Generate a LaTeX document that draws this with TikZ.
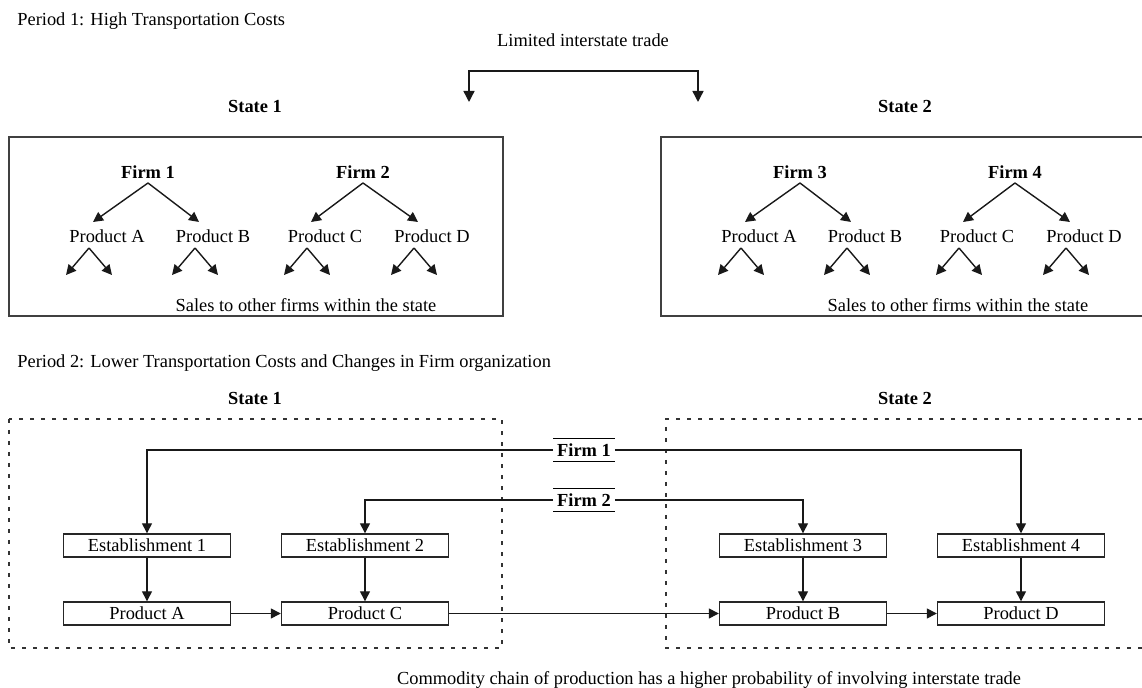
\documentclass[tikz,border=0pt]{standalone}
\usepackage{fontspec}
\setmainfont{Liberation Serif}
\usepackage{tikz}
\usetikzlibrary{arrows.meta, positioning, calc}
\newcommand{\figfont}{\fontsize{9.2}{11}\selectfont}
\tikzstyle{txt} = [inner sep=0pt, font=\figfont]
\tikzstyle{head} = [inner sep=0pt, font=\figfont\bfseries]
\tikzstyle{unit} = [rectangle, draw=black!85, line width=0.7pt, minimum width=83.5pt, minimum height=11.5pt, inner sep=0pt, font=\figfont]
\tikzstyle{firmtag} = [inner sep=0pt, minimum width=30.5pt, minimum height=11pt, font=\figfont\bfseries,
  append after command={(\tikzlastnode.north west) edge[line width=0.7pt] (\tikzlastnode.north east)
                        (\tikzlastnode.south west) edge[line width=0.7pt] (\tikzlastnode.south east)}]
\tikzstyle{arrow} = [line width=0.7pt, draw=black!90, -{Triangle[length=5pt,width=5pt]}]
\tikzstyle{twoway} = [line width=0.7pt, draw=black!90, {Triangle[length=5.5pt,width=5.5pt]}-{Triangle[length=5.5pt,width=5.5pt]}]
\tikzstyle{region} = [line width=0.7pt, draw=black!75]
\tikzstyle{dotbox} = [line width=0.75pt, draw=black!80, dash pattern=on 2pt off 3.5pt]
\newcommand{\salesfan}[1]{%
  \draw[arrow] ($(#1)+(-18,12)$) -- ++(-23,27);
  \draw[arrow] ($(#1)+(-18,12)$) -- ++(23,27);}

\begin{document}
\begin{tikzpicture}[x=0.5pt, y=-0.5pt]
  \useasboundingbox (0,0) rectangle (1142,688);

  % period 1
  \node[txt, anchor=west] (per1) at (17,21) {Period 1: High Transportation Costs};
  \node[txt] (trade) at (583,40) {Limited interstate trade};
  \coordinate (lt) at (469,102);
  \coordinate (rt) at (698,102);
  \coordinate (mid) at (583,71);
  \draw[twoway] (lt) |- (mid) -| (rt);

  \node[head] (st1) at (255,107) {State 1};
  \node[head] (st2) at (905,107) {State 2};
  \draw[region] (9,137) rectangle (503,316);
  \draw[region] (1142,137) -| (661,316) -- (1142,316);

  \node[head] (f1) at (148,172) {Firm 1};
  \node[head] (f2) at (363,172) {Firm 2};
  \node[txt] (a1) at (107,236) {Product A};
  \node[txt] (b1) at (213,236) {Product B};
  \node[txt] (c1) at (325,236) {Product C};
  \node[txt] (d1) at (432,236) {Product D};
  \node[txt] (sales1) at (306,305) {Sales to other firms within the state};

  \node[head] (f3) at (800,172) {Firm 3};
  \node[head] (f4) at (1015,172) {Firm 4};
  \node[txt] (a2) at (759,236) {Product A};
  \node[txt] (b2) at (865,236) {Product B};
  \node[txt] (c2) at (977,236) {Product C};
  \node[txt] (d2) at (1084,236) {Product D};
  \node[txt] (sales2) at (958,305) {Sales to other firms within the state};

  \draw[arrow] ($(f1)+(0,11)$) -- ($(a1)+(-14,-14)$);
  \draw[arrow] ($(f1)+(0,11)$) -- ($(b1)+(-14,-14)$);
  \draw[arrow] ($(f2)+(0,11)$) -- ($(c1)+(-14,-14)$);
  \draw[arrow] ($(f2)+(0,11)$) -- ($(d1)+(-14,-14)$);
  \draw[arrow] ($(f3)+(0,11)$) -- ($(a2)+(-14,-14)$);
  \draw[arrow] ($(f3)+(0,11)$) -- ($(b2)+(-14,-14)$);
  \draw[arrow] ($(f4)+(0,11)$) -- ($(c2)+(-14,-14)$);
  \draw[arrow] ($(f4)+(0,11)$) -- ($(d2)+(-14,-14)$);
  \salesfan{a1} \salesfan{b1} \salesfan{c1} \salesfan{d1}
  \salesfan{a2} \salesfan{b2} \salesfan{c2} \salesfan{d2}

  % period 2
  \node[txt, anchor=west] (per2) at (17,363) {Period 2: Lower Transportation Costs and Changes in Firm organization};
  \node[head] (st3) at (255,399) {State 1};
  \node[head] (st4) at (905,399) {State 2};
  \draw[dotbox] (9,419) rectangle (502,648);
  \draw[dotbox] (1142,419) -| (666,648) -- (1142,648);

  \node[firmtag] (t1) at (584,450) {Firm 1};
  \node[firmtag] (t2) at (584,500) {Firm 2};
  \node[unit] (e1) at (147,545.5) {Establishment 1};
  \node[unit] (e2) at (365,545.5) {Establishment 2};
  \node[unit] (e3) at (803,545.5) {Establishment 3};
  \node[unit] (e4) at (1021,545.5) {Establishment 4};
  \node[unit] (pa) at (147,613.5) {Product A};
  \node[unit] (pc) at (365,613.5) {Product C};
  \node[unit] (pb) at (803,613.5) {Product B};
  \node[unit] (pd) at (1021,613.5) {Product D};
  \node[txt] (chain) at (709,680) {Commodity chain of production has a higher probability of involving interstate trade};

  \draw[arrow] (t1.west) -| (e1);
  \draw[arrow] (t1.east) -| (e4);
  \draw[arrow] (t2.west) -| (e2);
  \draw[arrow] (t2.east) -| (e3);
  \draw[arrow] (e1) -- (pa);
  \draw[arrow] (e2) -- (pc);
  \draw[arrow] (e3) -- (pb);
  \draw[arrow] (e4) -- (pd);
  \draw[arrow] (pa) -- (pc);
  \draw[arrow] (pc) -- (pb);
  \draw[arrow] (pb) -- (pd);
\end{tikzpicture}
\end{document}
